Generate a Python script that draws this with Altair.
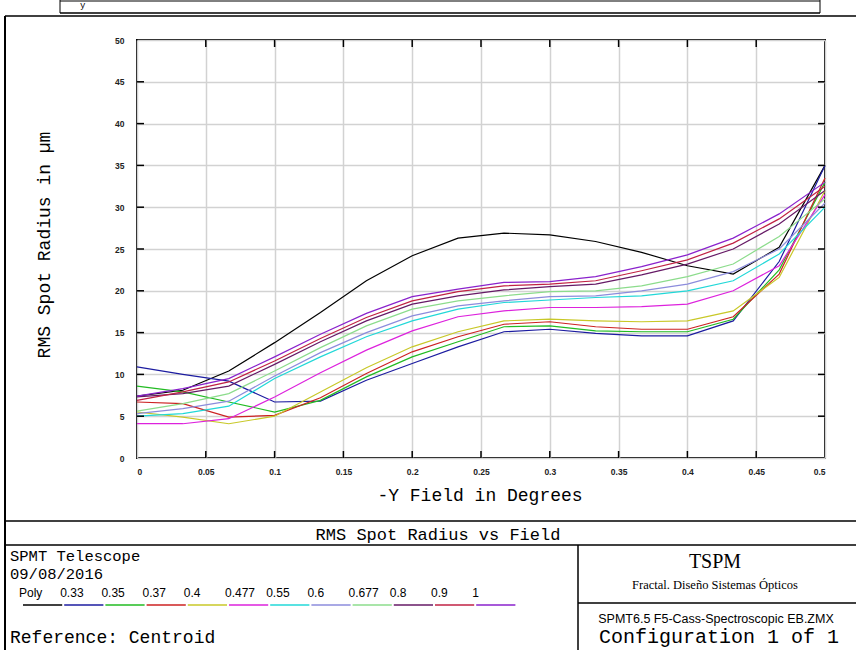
import altair as alt
import pandas as pd

# ---------------- data ----------------
field = [0, 0.0333, 0.0667, 0.1, 0.1333, 0.1667, 0.2, 0.2333, 0.2667, 0.3,
         0.3333, 0.3667, 0.4, 0.4333, 0.4667, 0.5]

series_names = ["Poly", "0.33", "0.35", "0.37", "0.4", "0.477", "0.55", "0.6",
                "0.677", "0.8", "0.9", "1"]
series_colors = ["#000000", "#1c1ca0", "#22bb22", "#cc2222", "#c8c828", "#dd22dd",
                 "#22d8d8", "#8c8cdc", "#8cdc8c", "#661a66", "#c02244", "#8a22cc"]

poly = [7.4, 8.1, 10.4, 13.8, 17.4, 21.2, 24.2, 26.3, 26.9, 26.7, 25.9, 24.6, 23.0, 22.0, 25.2, 35.0]
w033 = [10.9, 10.0, 9.2, 6.7, 6.8, 9.3, 11.3, 13.3, 15.1, 15.4, 14.9, 14.6, 14.6, 16.4, 23.5, 35.0]
w035 = [8.6, 7.9, 6.7, 5.5, 6.9, 9.7, 12.1, 13.9, 15.7, 15.8, 15.2, 15.1, 15.1, 16.6, 22.5, 33.0]
w037 = [6.7, 6.5, 4.9, 5.1, 7.2, 10.1, 12.7, 14.5, 16.0, 16.3, 15.7, 15.4, 15.4, 16.9, 22.0, 33.5]
w040 = [5.5, 4.9, 4.1, 5.0, 7.9, 10.8, 13.3, 15.1, 16.4, 16.6, 16.4, 16.3, 16.4, 17.6, 21.6, 32.0]
w0477 = [4.1, 4.1, 4.7, 7.3, 10.2, 12.9, 15.2, 16.9, 17.6, 18.0, 18.0, 18.1, 18.4, 20.0, 23.0, 31.5]
w055 = [5.0, 5.3, 6.2, 9.5, 12.1, 14.5, 16.4, 17.8, 18.6, 18.9, 19.2, 19.4, 20.0, 21.2, 24.4, 30.0]
w060 = [5.3, 5.9, 6.8, 9.8, 12.6, 15.0, 17.0, 18.2, 18.8, 19.3, 19.4, 20.0, 20.8, 22.3, 25.0, 30.5]
w0677 = [5.6, 6.5, 7.7, 10.4, 13.2, 15.8, 17.8, 18.8, 19.4, 19.9, 20.0, 20.6, 21.7, 23.2, 26.5, 31.0]
w080 = [7.3, 7.7, 8.6, 11.2, 13.9, 16.4, 18.4, 19.4, 20.1, 20.5, 20.8, 21.9, 23.2, 25.0, 28.0, 32.0]
w090 = [6.9, 7.9, 9.1, 11.6, 14.3, 16.8, 18.8, 19.9, 20.6, 20.8, 21.2, 22.4, 23.7, 25.7, 28.6, 32.5]
w100 = [7.4, 8.3, 9.5, 12.1, 14.8, 17.3, 19.3, 20.2, 21.0, 21.1, 21.7, 22.9, 24.3, 26.3, 29.2, 33.0]

series_values = [poly, w033, w035, w037, w040, w0477, w055, w060, w0677, w080, w090, w100]

x_ticks = [0, 0.05, 0.1, 0.15, 0.2, 0.25, 0.3, 0.35, 0.4, 0.45, 0.5]
y_ticks = [0, 5, 10, 15, 20, 25, 30, 35, 40, 45, 50]

# ---------------- layout ----------------
W, H = 856, 650
L, T = 137, 40          # plot origin in page pixels
PW, PH = 688, 418       # plot area size

def px(x):  # page x -> plot-relative x
    return x - L

def py(y):
    return y - T

rows = []
for name, vals in zip(series_names, series_values):
    for f, v in zip(field, vals):
        rows.append({"field": f, "rms": v, "series": name})
df = pd.DataFrame(rows)

xs = alt.Scale(domain=[0, 0.5], nice=False, zero=False)
ys = alt.Scale(domain=[0, 50], nice=False, zero=False)

one = pd.DataFrame({"k": [0]})

MONO = "Liberation Mono"
NARROW = "Liberation Sans Narrow, Liberation Sans"
SERIFN = "Liberation Serif"

lines = alt.Chart(df).mark_line(strokeWidth=1.2, interpolate="linear").encode(
    x=alt.X("field:Q", scale=xs,
            axis=alt.Axis(values=x_ticks, title=None, grid=True, gridColor="#d2d2d2",
                          gridWidth=1.5, domain=False, ticks=False, labelPadding=9,
                          labelFont="Liberation Sans", labelFontSize=8.5, labelFontWeight="bold",
                          labelColor="#222", labelExpr="datum.value == 0 ? '0' : format(datum.value, '.2~f')")),
    y=alt.Y("rms:Q", scale=ys,
            axis=alt.Axis(values=y_ticks, title=None, grid=True, gridColor="#d2d2d2",
                          gridWidth=1.5, domain=False, ticks=False, labelPadding=13,
                          labelFont="Liberation Sans", labelFontSize=8.5, labelFontWeight="bold",
                          labelColor="#222")),
    color=alt.Color("series:N", scale=alt.Scale(domain=series_names, range=series_colors),
                    legend=None),
    order=alt.Order("field:Q"),
)

tick_x_df = pd.DataFrame({"t": x_ticks[1:-1]})
tick_y_df = pd.DataFrame({"t": y_ticks[1:-1]})
TK = 7
ticks_bottom = alt.Chart(tick_x_df).mark_rule(color="black", strokeWidth=1.5).encode(
    x=alt.X("t:Q", scale=xs), y=alt.value(PH), y2=alt.value(PH - TK))
ticks_top = alt.Chart(tick_x_df).mark_rule(color="black", strokeWidth=1.5).encode(
    x=alt.X("t:Q", scale=xs), y=alt.value(0), y2=alt.value(TK))
ticks_left = alt.Chart(tick_y_df).mark_rule(color="black", strokeWidth=1.5).encode(
    y=alt.Y("t:Q", scale=ys), x=alt.value(0), x2=alt.value(TK))
ticks_right = alt.Chart(tick_y_df).mark_rule(color="black", strokeWidth=1.5).encode(
    y=alt.Y("t:Q", scale=ys), x=alt.value(PW), x2=alt.value(PW - TK))

def text(s, x, y, size, font=MONO, align="left", baseline="alphabetic", angle=None, weight="normal"):
    kw = dict(text=s, fontSize=size, font=font, align=align, baseline=baseline,
              color="black", fontWeight=weight)
    if angle is not None:
        kw["angle"] = angle
    return alt.Chart(one).mark_text(**kw).encode(x=alt.value(px(x)), y=alt.value(py(y)))

def hline(x1, x2, y, w=1.5, color="black"):
    return alt.Chart(one).mark_rule(color=color, strokeWidth=w).encode(
        x=alt.value(px(x1)), x2=alt.value(px(x2)), y=alt.value(py(y)))

def vline(x, y1, y2, w=1.5, color="black"):
    return alt.Chart(one).mark_rule(color=color, strokeWidth=w).encode(
        x=alt.value(px(x)), y=alt.value(py(y1)), y2=alt.value(py(y2)))

layers = [lines, ticks_bottom, ticks_top, ticks_left, ticks_right]

# axis titles
layers.append(text("RMS Spot Radius in \u00b5m", 45, 245, 18, align="center", baseline="middle", angle=270))
layers.append(text("-Y Field in Degrees", 480, 496, 18, align="center", baseline="middle"))

# frame
layers += [
    hline(60, 820, 1, w=1),
    vline(60, 0, 13, w=1), vline(820, 0, 13, w=1),
    hline(60, 820, 13, w=1.5),
    hline(5, 856, 16, w=1.5),
    vline(5, 16, 650, w=2),
    hline(5, 856, 521, w=1.5),
    hline(5, 856, 545, w=1.5),
    vline(578, 545, 650, w=1.5),
    hline(578, 856, 603, w=1.5),
]
layers.append(text("y", 80, 8, 9, font=MONO))

layers.append(text("RMS Spot Radius vs Field", 438, 540, 17, align="center"))
layers.append(text("SPMT Telescope", 10, 561, 15.5))
layers.append(text("09/08/2016", 10, 579, 15.5))
layers.append(text("Reference: Centroid", 10, 643, 18))

layers.append(text("TSPM", 715, 568, 20, font=SERIFN, align="center"))
layers.append(text("Fractal.  Dise\u00f1o Sistemas \u00d3pticos", 715, 589, 12.5, font=SERIFN, align="center"))
layers.append(text("SPMT6.5 F5-Cass-Spectroscopic EB.ZMX", 716, 623, 12.5, font=NARROW, align="center"))
layers.append(text("Configuration 1 of 1", 719, 643, 20, align="center"))

# custom legend
seg0, segw = 22, 41.2
for i, (name, col) in enumerate(zip(series_names, series_colors)):
    x0 = seg0 + i * segw
    layers.append(alt.Chart(one).mark_rule(color=col, strokeWidth=1.6).encode(
        x=alt.value(px(x0 + 1)), x2=alt.value(px(x0 + segw - 1)), y=alt.value(py(605))))
    layers.append(text(name, x0 - 3, 597, 12, font=NARROW))

chart = alt.layer(*layers).properties(
    width=PW, height=PH,
    padding={"left": L, "top": T, "right": W - L - PW, "bottom": H - T - PH},
    autosize=alt.AutoSizeParams(type="none"),
    background="white",
).configure_view(stroke="black", strokeWidth=2)

chart.save("out.html", embed_options={"renderer": "svg", "actions": False})
